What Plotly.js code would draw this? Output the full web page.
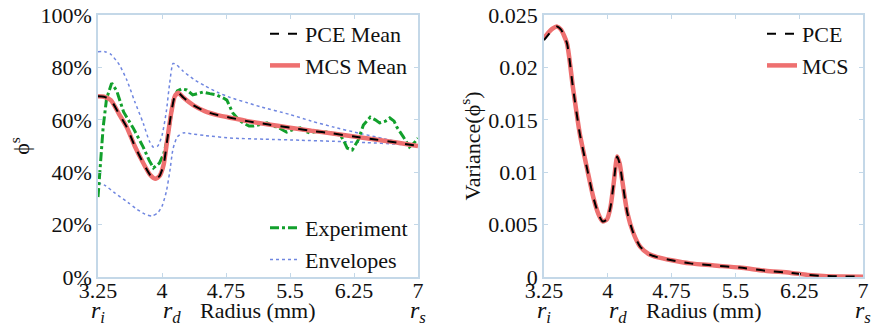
<!DOCTYPE html>
<html>
<head>
<meta charset="utf-8">
<script src="https://cdn.plot.ly/plotly-3.0.1.min.js"></script>
<style>
html,body{margin:0;padding:0;background:#fff;}
#chart{width:875px;height:336px;}
#chart svg text{font-family:'Liberation Serif' !important;}
</style>
</head>
<body>
<div id="chart"></div>
<script>
// ---- Left panel data (percent) ----
const meanX = [3.25,3.32,3.40,3.50,3.59,3.68,3.78,3.86,3.92,3.97,4.02,4.06,4.11,4.15,4.19,4.25,4.37,4.50,4.65,4.80,5.00,5.25,5.50,5.75,6.00,6.25,6.50,6.75,7.00];
const pceMean = [69,68.8,67.5,62,57,50,43.5,39,37.5,38.5,43,52,63,69,70.3,68.5,65.5,63.3,61.8,60.8,59.5,58.2,57,55.8,54.8,53.6,52.5,51.3,50];
const mcsMean = [69,68.8,67.5,62,57,50,43.5,39,37.5,38.5,43,52,63,69,70.3,68.5,65.5,63.3,61.8,60.8,59.5,58.2,57,55.8,54.8,53.6,52.5,51.3,50];

const upX = [3.25,3.33,3.40,3.50,3.59,3.68,3.78,3.85,3.90,3.95,4.00,4.05,4.09,4.13,4.17,4.25,4.37,4.50,4.65,4.80,5.00,5.15,5.50,5.75,6.00,6.32,6.60,6.88,7.00];
const upEnv = [86,86,85,81,75,67,58.7,52,49.5,50,54,63,74,81.5,81,78.5,75.5,73,70.5,68.5,66.5,65,62,59.5,57.3,54.8,52.8,50.7,50];

const loX = [3.25,3.33,3.45,3.60,3.70,3.80,3.88,3.95,4.00,4.05,4.09,4.13,4.18,4.25,4.35,4.50,4.83,5.20,5.62,6.00,6.40,6.75,7.00];
const loEnv = [36,35,32,28.5,26,24,23.3,24.5,27,32.5,40,49,53.5,55,54.6,54,53,52.6,52.2,51.8,51.3,50.7,50];

const expX = [3.25,3.28,3.31,3.35,3.41,3.47,3.55,3.66,3.78,3.85,3.90,3.97,4.02,4.06,4.10,4.13,4.18,4.23,4.29,4.36,4.42,4.48,4.56,4.64,4.72,4.76,4.83,4.90,4.95,5.02,5.07,5.15,5.23,5.30,5.35,5.42,5.46,5.53,5.62,5.68,5.73,5.82,5.93,6.02,6.09,6.13,6.17,6.23,6.30,6.36,6.44,6.50,6.55,6.62,6.67,6.72,6.75,6.83,6.90,6.95,7.00];
const expY = [30.5,45,57,68,74,71,63,57,49.6,44.5,41.6,43.5,47,52.3,60,67.5,71,71.8,71.4,69.5,70.2,70.6,70,69.5,68.3,67.5,62.6,60,58.8,57.6,57.6,58.3,58.8,57.5,57.3,56,55.3,56.2,56.9,55.6,55,55.6,55.3,54.6,54.2,52,49.2,48.5,52.3,58,61,60,58.8,59.5,60.7,59.5,57.3,53.4,49.6,51,53];

// ---- Right panel data (variance) ----
const varX = [3.25,3.30,3.35,3.40,3.45,3.52,3.59,3.67,3.76,3.83,3.89,3.94,3.99,4.03,4.07,4.11,4.14,4.17,4.23,4.30,4.38,4.48,4.58,4.75,4.97,5.25,5.55,5.85,6.14,6.35,6.53,6.75,7.00];
const mcsVar = [0.0228,0.0233,0.0237,0.0239,0.0236,0.0223,0.0181,0.0137,0.0102,0.0076,0.0060,0.0053,0.0055,0.0066,0.0090,0.0115,0.0108,0.0092,0.0061,0.0042,0.0029,0.0022,0.0019,0.0016,0.0013,0.0011,0.0009,0.0006,0.0004,0.0002,0.0001,0.00005,0.00003];
const pceVar = [0.0226,0.0231,0.0236,0.0239,0.0236,0.0223,0.0181,0.0137,0.0102,0.0076,0.0060,0.0053,0.0055,0.0066,0.0090,0.0115,0.0108,0.0092,0.0061,0.0042,0.0029,0.0022,0.0019,0.0016,0.0013,0.0011,0.0009,0.0006,0.0004,0.0002,0.0001,0.00005,0.00003];

const xTicks = [3.25,4,4.75,5.5,6.25,7];
const xTickText = ['3.25','4','4.75','5.5','6.25','7'];
const radiusMarks = [{x:3.25,t:'<i>r<sub>i</sub></i>'},{x:4.12,t:'<i>r<sub>d</sub></i>'},{x:7,t:'<i>r<sub>s</sub></i>'}];
const xTitle = 'Radius (mm)';

const FONT = 'Liberation Serif';
const FS = 22;
const AX = '#c4d8e8';
const RED = '#ee7070';
const GREEN = '#12a02c';
const BLUE = '#6f86e0';

const traces = [
  {x: upX, y: upEnv, xaxis:'x', yaxis:'y', mode:'lines', name:'Envelopes', legend:'legend2',
   line:{color:BLUE, width:1.5, dash:'dot', shape:'spline', smoothing:0.6}},
  {x: loX, y: loEnv, xaxis:'x', yaxis:'y', mode:'lines', name:'Envelopes', showlegend:false,
   line:{color:BLUE, width:1.5, dash:'dot', shape:'spline', smoothing:0.6}},
  {x: expX, y: expY, xaxis:'x', yaxis:'y', mode:'lines', name:'Experiment', legend:'legend2', legendrank:1,
   line:{color:GREEN, width:3, dash:'dashdot'}},
  {x: meanX, y: mcsMean, xaxis:'x', yaxis:'y', mode:'lines', name:'MCS Mean', legend:'legend', legendrank:2,
   line:{color:RED, width:4.5, shape:'spline', smoothing:0.6}},
  {x: meanX, y: pceMean, xaxis:'x', yaxis:'y', mode:'lines', name:'PCE Mean', legend:'legend', legendrank:1,
   line:{color:'#000', width:2, dash:'dash', shape:'spline', smoothing:0.6}},
  {x: varX, y: mcsVar, xaxis:'x2', yaxis:'y2', mode:'lines', name:'MCS', legend:'legend3', legendrank:2,
   line:{color:RED, width:4.5, shape:'spline', smoothing:0.6}},
  {x: varX, y: pceVar, xaxis:'x2', yaxis:'y2', mode:'lines', name:'PCE', legend:'legend3', legendrank:1,
   line:{color:'#000', width:2, dash:'dash', shape:'spline', smoothing:0.6}}
];

function xaxisDef(domain, anchor){
  return {domain: domain, anchor: anchor, range:[3.25,7], tickvals:xTicks, ticktext:xTickText,
    showgrid:false, zeroline:false, showline:true, linecolor:AX, linewidth:1.5, mirror:'ticks',
    ticks:'inside', ticklen:4, tickcolor:AX, ticklabelstandoff:-7,
    tickfont:{family:FONT, size:FS, color:'#111'}};
}

const annotations = [];
[['x','y'],['x2','y2']].forEach(([xa,ya])=>{
  radiusMarks.forEach(m=>{
    annotations.push({x:m.x, y:0, xref:xa, yref:ya, text:m.t, showarrow:false, yanchor:'middle', xanchor:'center',
      yshift:-35, font:{family:FONT, size:FS+2, color:'#111'}});
  });
  annotations.push({x:5.125, y:0, xref:xa, yref:ya, text:xTitle, showarrow:false, yanchor:'middle', xanchor:'center',
    yshift:-33, font:{family:FONT, size:FS, color:'#111'}});
});

const legendBase = {bgcolor:'rgba(0,0,0,0)', borderwidth:0, font:{family:FONT, size:FS, color:'#111'},
  xanchor:'left', yanchor:'top', itemwidth:30, tracegroupgap:0};

const layout = {
  width:875, height:336, margin:{l:0, r:0, t:15, b:59},
  paper_bgcolor:'#fff', plot_bgcolor:'#fff',
  font:{family:FONT, size:FS, color:'#111'},
  xaxis: xaxisDef([98/875, 418/875], 'y'),
  yaxis: {domain:[0,1], anchor:'x', range:[0,100], dtick:20, ticksuffix:'%',
    showgrid:false, zeroline:false, showline:true, linecolor:AX, linewidth:1.5, mirror:'ticks',
    ticks:'inside', ticklen:4, tickcolor:AX, tickfont:{family:FONT, size:FS, color:'#111'},
    title:{text:'ϕ<sup>s</sup>', font:{family:FONT, size:FS, color:'#111'}, standoff:5}},
  xaxis2: xaxisDef([544/875, 863/875], 'y2'),
  yaxis2: {domain:[0,1], anchor:'x2', range:[0,0.025], dtick:0.005,
    showgrid:false, zeroline:false, showline:true, linecolor:AX, linewidth:1.5, mirror:'ticks',
    ticks:'inside', ticklen:4, tickcolor:AX, tickfont:{family:FONT, size:FS, color:'#111'},
    title:{text:'Variance(ϕ<sup>s</sup>)', font:{family:FONT, size:FS, color:'#111'}, standoff:2}},
  legend: Object.assign({}, legendBase, {x:265/875, y:1 + 2/262}),
  legend2: Object.assign({}, legendBase, {x:265/875, y:1 - (207-15)/262}),
  legend3: Object.assign({}, legendBase, {x:762/875, y:1 + 2/262}),
  annotations: annotations,
  showlegend:true
};

Plotly.newPlot('chart', traces, layout, {displayModeBar:false});
</script>
</body>
</html>
